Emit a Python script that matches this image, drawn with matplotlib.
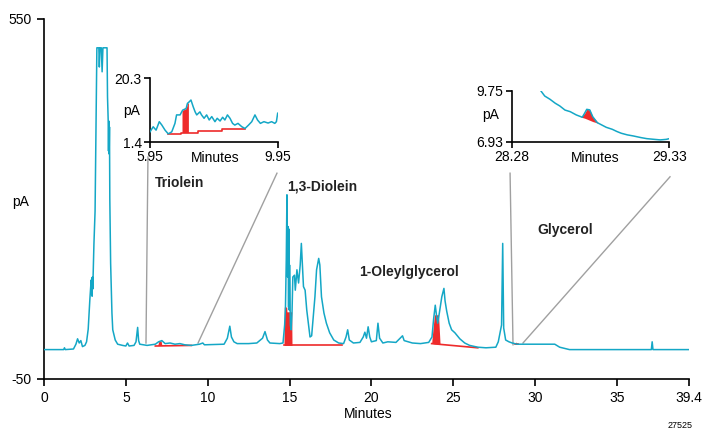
import matplotlib
matplotlib.use("Agg")
import matplotlib.pyplot as plt

plt.rcParams['font.family'] = ['Liberation Sans', 'DejaVu Sans']

# ---------------- data ----------------
main_t = [0.0, 1.2, 1.25, 1.3, 1.8, 1.95, 2.05, 2.15, 2.25, 2.35, 2.5, 2.6, 2.7, 2.8,
          2.88, 2.9, 2.92, 2.94, 2.96, 2.98, 3.05, 3.12, 3.18, 3.23, 3.35, 3.38, 3.42,
          3.5, 3.55, 3.6, 3.85, 3.88, 3.92, 3.94, 3.96, 3.98, 4.0, 4.02, 4.07, 4.15,
          4.2, 4.35, 4.5, 4.8, 5.0, 5.1, 5.2, 5.5, 5.62, 5.72, 5.78, 5.85, 6.3, 6.8,
          7.0, 7.2, 7.4, 7.7, 8.0, 8.3, 8.6, 9.0, 9.5, 9.7, 9.8, 11.0, 11.2, 11.35,
          11.45, 11.6, 11.8, 12.5, 13.0, 13.35, 13.5, 13.65, 13.8, 14.4, 14.6, 14.7,
          14.75, 14.8, 14.84, 14.88, 14.92, 14.94, 14.96, 14.98, 15.0, 15.05, 15.1,
          15.15, 15.2, 15.3, 15.35, 15.45, 15.55, 15.65, 15.72, 15.8, 15.85, 15.95,
          16.05, 16.15, 16.25, 16.35, 16.45, 16.55, 16.65, 16.78, 16.85, 16.95, 17.1,
          17.25, 17.45, 17.7, 18.0, 18.3, 18.45, 18.55, 18.65, 18.9, 19.3, 19.5, 19.6,
          19.7, 19.8, 19.9, 20.0, 20.3, 20.4, 20.5, 20.7, 21.0, 21.5, 21.9, 22.0, 22.5,
          23.0, 23.5, 23.7, 23.8, 23.9, 23.98, 24.05, 24.15, 24.3, 24.43, 24.5, 24.6,
          24.75, 24.9, 25.1, 25.4, 25.7, 26.0, 26.5, 27.0, 27.6, 27.75, 27.95, 28.02,
          28.08, 28.2, 28.4, 28.6, 28.9, 31.2, 31.5, 32.1, 37.1, 37.15, 37.2, 39.4]
main_v = [-1, -1, 2, -1, 0, 8, 17, 10, 14, 4, 6, 12, 33, 82,
          115, 92, 118, 88, 120, 100, 175, 230, 380, 502, 502, 470, 502,
          502, 462, 502, 502, 420, 382, 330, 380, 325, 370, 250, 143, 60,
          32, 15, 8, 6, 5, 10, 5, 6, 12, 36, 14, 8, 6, 8,
          12, 14, 9, 10, 8, 9, 7, 6, 8, 10, 7, 8, 18, 38,
          20, 12, 9, 9, 10, 18, 29, 15, 10, 9, 10, 40,
          70, 150, 257, 120, 204, 70, 200, 65, 140, 40, 32,
          60, 120, 123, 98, 132, 110, 140, 176, 130, 104, 98,
          65, 43, 20, 22, 54, 87, 132, 151, 140, 87, 60,
          43, 27, 15, 10, 9, 20, 32, 15, 10, 11, 20, 28,
          18, 37, 20, 12, 14, 43, 18, 10, 12, 11, 22, 14, 10,
          9, 11, 20, 50, 73, 55, 43, 60, 87, 101, 80, 63,
          43, 32, 27, 17, 10, 6, 3, 2, 3, 12, 40, 176,
          35, 15, 12, 10, 8, 8, 3, -1, -1, 12, -1, -1]

# integrated (red) regions in the main chromatogram
red_base_t = [[6.8, 9.0], [14.66, 18.2], [23.68, 26.5], [28.75, 28.95]]
red_base_v = [[5, 6], [6, 6], [9, 2], [8, 8]]
red_fill_t = [[6.95, 7.0, 7.15, 7.2],
              [14.66, 14.68, 14.83, 14.84, 15.13, 15.15],
              [23.68, 23.75, 23.85, 24.1, 24.19],
              [28.78, 28.83, 28.9]]
red_fill_top = [[6, 12, 14, 6],
                [6, 70, 70, 62, 62, 6],
                [10, 30, 57, 57, 10],
                [8, 12, 8]]
red_fill_bot = [[6, 6, 6, 6],
                [6, 6, 6, 6, 6, 6],
                [10, 9, 8.5, 8, 8],
                [8, 8, 8]]

# Triolein inset
ins1_t = [5.95, 6.05, 6.14, 6.24, 6.32, 6.42, 6.52, 6.63, 6.73, 6.78, 6.89, 6.97, 7.08,
          7.12, 7.18, 7.23, 7.3, 7.36, 7.41, 7.51, 7.56, 7.64, 7.72, 7.8, 7.88, 7.98,
          8.05, 8.14, 8.22, 8.29, 8.37, 8.45, 8.53, 8.6, 8.7, 8.82, 8.92, 9.03, 9.13,
          9.23, 9.31, 9.4, 9.51, 9.64, 9.75, 9.85, 9.9, 9.94]
ins1_v = [4.4, 5.9, 4.9, 7.4, 6.4, 4.9, 3.8, 4.4, 6.9, 9.4, 9.4, 10.8, 11.3,
          12.8, 13.3, 13.8, 11.8, 10.3, 9.4, 10.3, 9.4, 8.4, 9.4, 7.9, 8.9, 7.4,
          8.4, 7.6, 8.7, 7.9, 9.4, 8.4, 6.9, 6.4, 6.9, 5.9, 5.4, 6.4, 7.4,
          9.4, 7.9, 6.9, 7.4, 7.0, 7.4, 6.9, 7.4, 9.9]
ins1_base_t = [6.52, 6.92, 6.92, 7.45, 7.45, 8.2, 8.2, 8.92]
ins1_base_v = [3.8, 3.8, 4.2, 4.2, 4.7, 4.7, 5.2, 5.2]
ins1_fill_t = [6.95, 6.97, 7.08, 7.12, 7.15]
ins1_fill_top = [10.5, 10.8, 11.3, 12.8, 13.0]
ins1_fill_bot = [4.2, 4.2, 4.2, 4.2, 4.2]

# Glycerol inset
ins2_t = [28.475, 28.50, 28.535, 28.57, 28.60, 28.635, 28.67, 28.71, 28.75, 28.765,
          28.78, 28.80, 28.82, 28.85, 28.88, 28.91, 28.95, 28.98, 29.01, 29.05,
          29.09, 29.14, 29.18, 29.23, 29.27, 29.31, 29.33]
ins2_v = [9.75, 9.47, 9.29, 9.07, 8.92, 8.69, 8.6, 8.42, 8.29, 8.5,
          8.73, 8.7, 8.32, 7.99, 7.86, 7.73, 7.62, 7.5, 7.4, 7.31,
          7.25, 7.16, 7.1, 7.06, 7.03, 7.06, 7.1]
ins2_fill_t = [28.74, 28.765, 28.78, 28.80, 28.82, 28.86]
ins2_fill_top = [8.3, 8.5, 8.73, 8.7, 8.32, 7.95]
ins2_fill_bot = [8.3, 8.24, 8.19, 8.12, 8.05, 7.95]

# connector (annotation) lines, main-axis coordinates
conn_t = [[6.23, 6.35], [9.41, 14.23], [28.65, 28.47], [29.26, 38.24]]
conn_v = [[10, 320], [10, 293], [7, 293], [10, 287]]

peak_labels = ['Triolein', '1,3-Diolein', '1-Oleylglycerol', 'Glycerol']
peak_label_t = [6.78, 14.83, 19.24, 30.12]
peak_label_v = [277, 270, 128, 198]

main_xticks = [0, 5, 10, 15, 20, 25, 30, 35, 39.4]
main_xticklabels = ['0', '5', '10', '15', '20', '25', '30', '35', '39.4']
main_yticks = [-50, 550]

CYAN = '#14A7C6'
RED = '#EE2B2B'
GRAY = '#A0A0A0'
W, H = 704, 432


def fx(x):
    return x / W


def fy(y):
    return 1 - y / H


def style_axes(ax):
    for s in ('top', 'right'):
        ax.spines[s].set_visible(False)
    for s in ('left', 'bottom'):
        ax.spines[s].set_linewidth(1.2)
        ax.spines[s].set_color('black')
    ax.set_facecolor('none')


fig = plt.figure(figsize=(7.04, 4.32), dpi=100)

# ---------------- main axes ----------------
ax = fig.add_axes([fx(44), fy(379), fx(689) - fx(44), fy(19) - fy(379)])
style_axes(ax)
ax.set_xlim(0, 39.4)
ax.set_ylim(-50, 550)
ax.set_xticks(main_xticks)
ax.set_xticklabels(main_xticklabels)
ax.set_yticks(main_yticks)
ax.set_yticklabels([str(v) for v in main_yticks])
ax.tick_params(direction='out', length=5, width=1.2, labelsize=10, pad=4)

for ct, cv in zip(conn_t, conn_v):
    ax.plot(ct, cv, color=GRAY, lw=1.0, zorder=1)

for bt, bv in zip(red_base_t, red_base_v):
    ax.plot(bt, bv, color=RED, lw=1.2, zorder=2)
for ft, ftop, fbot in zip(red_fill_t, red_fill_top, red_fill_bot):
    ax.fill_between(ft, fbot, ftop, color=RED, lw=0, zorder=2)

ax.plot(main_t, main_v, color=CYAN, lw=1.1, zorder=3)

for lab, lt, lv in zip(peak_labels, peak_label_t, peak_label_v):
    ax.text(lt, lv, lab, fontsize=10, fontweight='bold', color='#222222',
            ha='left', va='center')

fig.text(fx(21), fy(202), 'pA', fontsize=10, ha='center', va='center')
fig.text(fx(368), fy(414), 'Minutes', fontsize=10, ha='center', va='center')
fig.text(fx(680), fy(426), '27525', fontsize=6.5, ha='center', va='center')

# ---------------- inset 1 (Triolein) ----------------
a1 = fig.add_axes([fx(150), fy(142), fx(278) - fx(150), fy(78) - fy(142)])
style_axes(a1)
a1.set_xlim(5.95, 9.95)
a1.set_ylim(1.4, 20.3)
a1.set_xticks([5.95, 9.95])
a1.set_xticklabels(['5.95', '9.95'])
a1.set_yticks([1.4, 20.3])
a1.set_yticklabels(['1.4', '20.3'])
a1.tick_params(direction='out', length=4, width=1.2, labelsize=10, pad=2)
a1.plot(ins1_base_t, ins1_base_v, color=RED, lw=1.2, zorder=2)
a1.fill_between(ins1_fill_t, ins1_fill_bot, ins1_fill_top, color=RED, lw=0, zorder=2)
a1.plot(ins1_t, ins1_v, color=CYAN, lw=1.1, zorder=3)
fig.text(fx(215), fy(158), 'Minutes', fontsize=10, ha='center', va='center')
fig.text(fx(132), fy(111), 'pA', fontsize=10, ha='center', va='center')

# ---------------- inset 2 (Glycerol) ----------------
a2 = fig.add_axes([fx(511.7), fy(141.7), fx(669.3) - fx(511.7), fy(91) - fy(141.7)])
style_axes(a2)
a2.set_xlim(28.28, 29.33)
a2.set_ylim(6.93, 9.75)
a2.set_xticks([28.28, 29.33])
a2.set_xticklabels(['28.28', '29.33'])
a2.set_yticks([6.93, 9.75])
a2.set_yticklabels(['6.93', '9.75'])
a2.tick_params(direction='out', length=4, width=1.2, labelsize=10, pad=2)
a2.fill_between(ins2_fill_t, ins2_fill_bot, ins2_fill_top, color=RED, lw=0, zorder=2)
a2.plot(ins2_t, ins2_v, color=CYAN, lw=1.1, zorder=3)
fig.text(fx(595), fy(158), 'Minutes', fontsize=10, ha='center', va='center')
fig.text(fx(491), fy(115), 'pA', fontsize=10, ha='center', va='center')

fig.savefig('out.png', dpi=100)
